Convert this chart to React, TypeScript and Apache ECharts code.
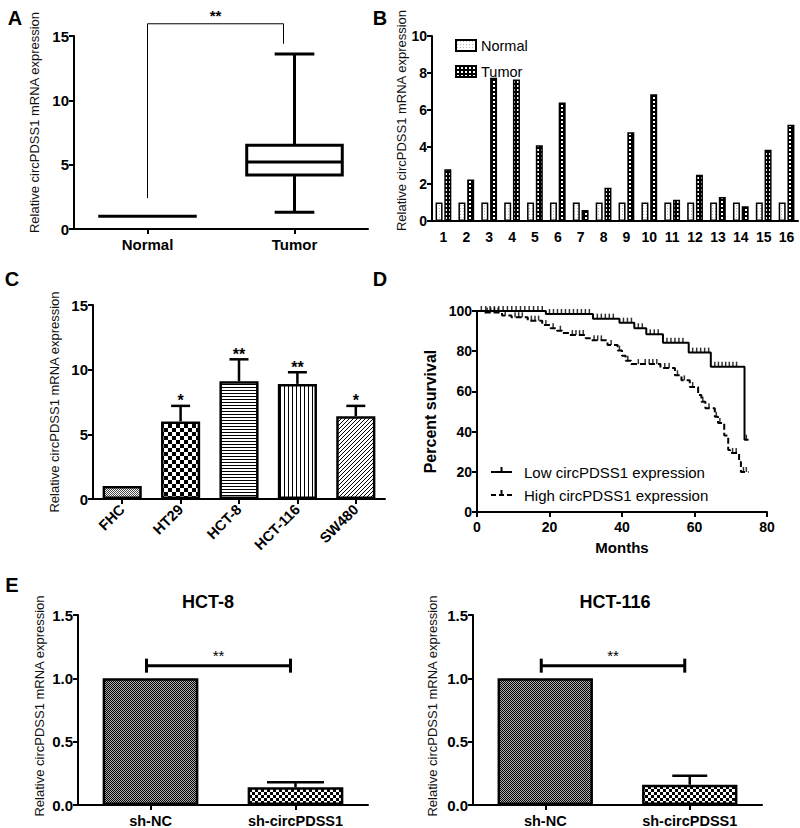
import React, { useEffect, useRef } from "react";
import * as echarts from "echarts";

const FONT = '"Liberation Sans", Arial, Helvetica, sans-serif';

// ---------- Panel A (box plot) ----------
const aCategories = ["Normal", "Tumor"];
const aNormalValue = 1.0;
const aTumorBox = [1.3, 4.2, 5.2, 6.5, 13.6]; // min, Q1, median, Q3, max
const aBracket = [2.4, 15.95, 14.4]; // left foot, top, right foot
const aSig = "**";

// ---------- Panel B (paired bars) ----------
const bCategories = ["1", "2", "3", "4", "5", "6", "7", "8", "9", "10", "11", "12", "13", "14", "15", "16"];
const bNormal = [1, 1, 1, 1, 1, 1, 1, 1, 1, 1, 1, 1, 1, 1, 1, 1];
const bTumor = [2.8, 2.25, 7.75, 7.65, 4.1, 6.4, 0.6, 1.8, 4.8, 6.85, 1.15, 2.5, 1.3, 0.8, 3.85, 5.2];

// ---------- Panel C (cell lines) ----------
const cCategories = ["FHC", "HT29", "HCT-8", "HCT-116", "SW480"];
const cMeans = [1.0, 6.0, 9.1, 8.9, 6.4];
const cErrors = [0, 1.2, 1.7, 0.9, 0.8];
const cStars = ["", "*", "**", "**", "*"];

// ---------- Panel D (Kaplan-Meier) ----------
const dLowSteps = [
  [0, 100], [19, 98.5], [32, 96.2], [39.3, 94.2], [43.4, 91.4], [46.7, 88.4],
  [51.3, 84.2], [58.4, 79.3], [64.5, 72.3], [73.8, 36], [74.9, 36],
];
const dHighSteps = [
  [0, 100], [1.8, 99.3], [6.9, 97.7], [9.5, 96.9], [14, 95.2], [18, 93], [20.3, 91.4],
  [22.1, 90.2], [23.5, 89], [25.5, 88], [30, 86.4], [31.5, 85.4], [36, 83.1], [38.8, 80.3],
  [40, 77.7], [41, 75.2], [42.5, 73.6], [50.6, 71.7], [54.6, 68], [56.4, 65.5], [58.7, 62.2],
  [61, 58.2], [61.9, 54.9], [63, 51.6], [65.6, 47.4], [66.5, 44.3], [68.2, 38], [69.3, 30.8],
  [69.8, 29.4], [72.3, 25], [72.8, 19.9], [74.9, 19.9],
];
const dLowCensored = [
  1.2, 2.4, 3.6, 4.8, 6, 7.2, 8.4, 9.6, 10.8, 12, 13.2, 14.4, 15.6, 16.8, 18,
  20, 21.1, 22.2, 23.3, 24.4, 25.5, 26.6, 27.7, 28.8, 29.9, 31,
  33.2, 34.3, 35.4, 36.5, 37.6, 40.4, 41.5, 42.6, 44.5, 45.6, 47.8, 48.9, 50,
  52.4, 53.5, 54.6, 55.7, 56.8, 59.5, 60.6, 61.7, 62.8, 63.9,
  65.6, 66.6, 67.6, 68.6, 69.6, 70.6, 71.6, 74.3,
];
const dHighCensored = [
  2.8, 3.8, 4.8, 5.8, 7.8, 10.5, 11.5, 12.5, 15, 16, 17, 19, 21, 23, 26.3, 27.3, 28.3, 29.3,
  32.3, 33.3, 34.3, 37, 39.3, 41.6, 44.5, 46.4, 47.5, 48.5, 49.6, 51.8, 53, 55.3, 57.2,
  59.5, 62.3, 64, 66, 67, 70.5, 71.5, 73.5, 74.3,
];
const dLegend = ["Low circPDSS1 expression", "High circPDSS1 expression"];

// ---------- Panel E ----------
const eCategories = ["sh-NC", "sh-circPDSS1"];
const eHct8Means = [1.0, 0.14];
const eHct8Errors = [0, 0.04];
const eHct116Means = [1.0, 0.16];
const eHct116Errors = [0, 0.07];
const eBracketY = 1.1;
const eSig = "**";

const Y_NAME = "Relative circPDSS1 mRNA expression";

function levelAt(steps: number[][], t: number) {
  let v = steps[0][1];
  for (const s of steps) {
    if (s[0] <= t) v = s[1];
    else break;
  }
  return v;
}

export default function App() {
  const ref = useRef<HTMLDivElement>(null);

  useEffect(() => {
    document.body.style.margin = "0";
    const chart = echarts.init(ref.current!, undefined, { renderer: "svg" });

    const pat = (w: number, h: number, draw: (c: CanvasRenderingContext2D) => void, bg = "#fff") => {
      const cv = document.createElement("canvas");
      cv.width = w;
      cv.height = h;
      const ctx = cv.getContext("2d")!;
      ctx.fillStyle = bg;
      ctx.fillRect(0, 0, w, h);
      ctx.fillStyle = "#000";
      draw(ctx);
      return { image: cv, repeat: "repeat", imageWidth: w, imageHeight: h } as any;
    };
    const checker = (s: number, col = "#000", bg = "#fff") =>
      pat(2 * s, 2 * s, (c) => {
        c.fillStyle = col;
        c.fillRect(0, 0, s, s);
        c.fillRect(s, s, s, s);
      }, bg);
    const P = {
      bNormal: pat(3, 3, (c) => {
        c.fillStyle = "#b8b8b8";
        c.fillRect(1, 1, 1, 1);
      }),
      bTumor: pat(4, 4, (c) => {
        c.fillStyle = "#fff";
        c.fillRect(1, 1, 2, 2);
      }, "#000"),
      fhc: checker(1, "#444"),
      ht29: checker(4),
      hct8: pat(4, 3, (c) => c.fillRect(0, 0, 4, 1)),
      hct116: pat(4, 4, (c) => c.fillRect(0, 0, 1, 4)),
      sw480: pat(4, 4, (c) => {
        for (let i = 0; i < 4; i++) c.fillRect(i, 3 - i, 1, 1);
      }),
      shNC: checker(1, "#000", "#b0b0b0"),
      shCirc: checker(3),
    };
    const cPatterns = [P.fhc, P.ht29, P.hct8, P.hct116, P.sw480];
    const ePatterns = [P.shNC, P.shCirc];

    const axisLine = { show: true, onZero: false, lineStyle: { color: "#000", width: 2 } };
    const axisTick = { show: true, length: 5, lineStyle: { color: "#000", width: 2 } };
    const lbl = (size: number, margin: number, extra: any = {}) => ({
      color: "#000",
      fontWeight: "bold",
      fontSize: size,
      fontFamily: FONT,
      margin,
      ...extra,
    });
    const yName = (gap: number, shift = 0) => ({
      name: Y_NAME,
      nameLocation: "middle",
      nameGap: gap,
      nameTextStyle: { color: "#111", fontSize: 13, fontFamily: FONT, padding: [0, 0, 0, shift] },
    });
    const catAxis = (grid: number, data: string[], size: number, margin: number, tick = true, extra: any = {}) => ({
      type: "category",
      gridIndex: grid,
      data,
      axisLine,
      axisTick: { ...axisTick, show: tick, alignWithLabel: true },
      axisLabel: lbl(size, margin, extra),
      splitLine: { show: false },
    });
    const valAxis = (grid: number, max: number, interval: number, extra: any = {}) => ({
      type: "value",
      gridIndex: grid,
      min: 0,
      max,
      interval,
      axisLine,
      axisTick,
      axisLabel: lbl(15, 5),
      splitLine: { show: false },
      ...extra,
    });

    const blk = (w: number, dash?: number[]) => ({ stroke: "#000", lineWidth: w, fill: "none", lineDash: dash });

    // Panel A renderers
    const renderNormal = (_p: any, api: any) => {
      const c = api.coord([api.value(0), api.value(1)]);
      const w = api.size([1, 0])[0] * 0.67;
      return { type: "line", shape: { x1: c[0] - w / 2, y1: c[1], x2: c[0] + w / 2, y2: c[1] }, style: blk(3) };
    };
    const renderBox = (_p: any, api: any) => {
      const i = api.value(0);
      const y = [1, 2, 3, 4, 5].map((d) => api.coord([i, api.value(d)])[1]);
      const cx = api.coord([i, 0])[0];
      const bw = api.size([1, 0])[0] * 0.65;
      const cw = api.size([1, 0])[0] * 0.27;
      const L = (x1: number, y1: number, x2: number, y2: number) => ({ type: "line", shape: { x1, y1, x2, y2 }, style: blk(3) });
      return {
        type: "group",
        children: [
          L(cx, y[0], cx, y[1]),
          L(cx, y[3], cx, y[4]),
          L(cx - cw / 2, y[0], cx + cw / 2, y[0]),
          L(cx - cw / 2, y[4], cx + cw / 2, y[4]),
          { type: "rect", shape: { x: cx - bw / 2, y: y[3], width: bw, height: y[1] - y[3] }, style: { stroke: "#000", lineWidth: 3, fill: "#fff" } },
          L(cx - bw / 2, y[2], cx + bw / 2, y[2]),
        ],
      };
    };
    const renderABracket = (_p: any, api: any) => {
      const p0 = api.coord([api.value(0), api.value(2)]);
      const pt = api.coord([api.value(0), api.value(3)]);
      const q1 = api.coord([api.value(1), api.value(4)]);
      const qt = api.coord([api.value(1), api.value(3)]);
      const rx = q1[0] - 11;
      return {
        type: "group",
        children: [
          { type: "polyline", shape: { points: [p0, pt, [rx, qt[1]], [rx, q1[1]]] }, style: blk(1) },
          { type: "text", x: (pt[0] + rx) / 2, y: pt[1] - 1, style: { text: aSig, align: "center", verticalAlign: "bottom", font: `bold 15px ${FONT}`, fill: "#000" } },
        ],
      };
    };

    const renderErrors = (stars: string[] | null, capW: number, font: string) => (p: any, api: any) => {
      const i = api.value(0);
      const base = api.coord([i, api.value(1)]);
      const top = api.coord([i, api.value(2)]);
      const children: any[] = [];
      if (api.value(2) > api.value(1)) {
        children.push({ type: "line", shape: { x1: top[0], y1: base[1], x2: top[0], y2: top[1] }, style: blk(2.5) });
        children.push({ type: "line", shape: { x1: top[0] - capW / 2, y1: top[1], x2: top[0] + capW / 2, y2: top[1] }, style: blk(2.5) });
      }
      const s = stars ? stars[p.dataIndex] : "";
      if (s) children.push({ type: "text", x: top[0], y: top[1] + 3, style: { text: s, align: "center", verticalAlign: "bottom", font, fill: "#000" } });
      return { type: "group", children };
    };

    const renderEBracket = (_p: any, api: any) => {
      const a = api.coord([api.value(0), api.value(2)]);
      const b = api.coord([api.value(1), api.value(2)]);
      const x1 = a[0] - 4;
      const x2 = b[0] - 5;
      const L = (xa: number, ya: number, xb: number, yb: number) => ({ type: "line", shape: { x1: xa, y1: ya, x2: xb, y2: yb }, style: blk(3) });
      return {
        type: "group",
        children: [
          L(x1, a[1], x2, a[1]),
          L(x1, a[1] - 7, x1, a[1] + 7),
          L(x2, a[1] - 7, x2, a[1] + 7),
          { type: "text", x: (x1 + x2) / 2, y: a[1] - 3, style: { text: eSig, align: "center", verticalAlign: "bottom", font: `15px ${FONT}`, fill: "#000" } },
        ],
      };
    };

    const censor = (steps: number[][], times: number[]) => times.map((t) => [t, levelAt(steps, t)]);

    const eFmt = (v: number) => v.toFixed(1);

    const letter = (t: string, x: number, y: number) => ({
      type: "text",
      x,
      y,
      style: { text: t, font: `bold 20px ${FONT}`, fill: "#000", align: "center", verticalAlign: "middle" },
    });
    const title = (t: string, x: number, y: number) => ({
      type: "text",
      x,
      y,
      style: { text: t, font: `bold 18px ${FONT}`, fill: "#000", align: "center", verticalAlign: "middle" },
    });
    const gl = (x1: number, y1: number, x2: number, y2: number, dash?: number[]) => ({
      type: "line",
      shape: { x1, y1, x2, y2 },
      style: { stroke: "#000", lineWidth: 2, lineDash: dash },
    });
    const gt = (t: string, x: number, y: number) => ({
      type: "text",
      x,
      y,
      style: { text: t, font: `15px ${FONT}`, fill: "#000", align: "left", verticalAlign: "middle" },
    });

    const option: any = {
      animation: false,
      textStyle: { fontFamily: FONT },
      grid: [
        { left: 74, top: 36, width: 294, height: 193 },
        { left: 432, top: 36, width: 366, height: 185 },
        { left: 93, top: 305, width: 292, height: 194 },
        { left: 477, top: 311, width: 290, height: 201 },
        { left: 78, top: 615, width: 290, height: 192 },
        { left: 473, top: 615, width: 289, height: 192 },
      ],
      xAxis: [
        catAxis(0, aCategories, 15, 8),
        catAxis(1, bCategories, 14, 9, false),
        catAxis(2, cCategories, 14.5, 8, true, { rotate: 45, interval: 0 }),
        {
          type: "value",
          gridIndex: 3,
          min: 0,
          max: 80,
          interval: 20,
          axisLine,
          axisTick,
          axisLabel: lbl(14, 8),
          splitLine: { show: false },
          name: "Months",
          nameLocation: "middle",
          nameGap: 28,
          nameTextStyle: { color: "#000", fontWeight: "bold", fontSize: 15, fontFamily: FONT },
        },
        catAxis(4, eCategories, 14.5, 8),
        catAxis(5, eCategories, 14.5, 8),
      ],
      yAxis: [
        valAxis(0, 15, 5, yName(33, 20)),
        valAxis(1, 10, 2, { ...yName(23, 16), axisLabel: lbl(14, 5) }),
        valAxis(2, 15, 5, yName(32)),
        valAxis(3, 100, 20, {
          axisLabel: lbl(14, 5),
          name: "Percent survival",
          nameLocation: "middle",
          nameGap: 39,
          nameTextStyle: { color: "#000", fontWeight: "bold", fontSize: 16, fontFamily: FONT },
        }),
        { ...valAxis(4, 1.5, 0.5, yName(32, 8)), axisLabel: { ...lbl(15, 5), formatter: eFmt } },
        { ...valAxis(5, 1.5, 0.5, yName(34, 8)), axisLabel: { ...lbl(15, 5), formatter: eFmt } },
      ],
      legend: {
        data: ["Normal", "Tumor"],
        orient: "vertical",
        left: 450,
        top: 33,
        itemWidth: 20,
        itemHeight: 11,
        itemGap: 11,
        icon: "rect",
        itemStyle: { borderColor: "#000", borderWidth: 2 },
        textStyle: { color: "#000", fontSize: 14.5, fontFamily: FONT },
        selectedMode: false,
      },
      series: [
        // A
        { type: "custom", xAxisIndex: 0, yAxisIndex: 0, clip: false, data: [[0, aNormalValue]], renderItem: renderNormal },
        { type: "custom", xAxisIndex: 0, yAxisIndex: 0, clip: false, data: [[1, ...aTumorBox]], renderItem: renderBox },
        { type: "custom", xAxisIndex: 0, yAxisIndex: 0, clip: false, data: [[0, 1, ...aBracket]], renderItem: renderABracket },
        // B
        {
          name: "Normal",
          type: "bar",
          xAxisIndex: 1,
          yAxisIndex: 1,
          data: bNormal,
          barWidth: 7,
          barGap: "25%",
          itemStyle: { color: P.bNormal, borderColor: "#000", borderWidth: 1.5 },
        },
        {
          name: "Tumor",
          type: "bar",
          xAxisIndex: 1,
          yAxisIndex: 1,
          data: bTumor,
          barWidth: 7,
          barGap: "25%",
          itemStyle: { color: P.bTumor, borderColor: "#000", borderWidth: 1.5 },
        },
        // C
        {
          type: "bar",
          xAxisIndex: 2,
          yAxisIndex: 2,
          barWidth: "67%",
          data: cMeans.map((v, i) => ({ value: v, itemStyle: { color: cPatterns[i] } })),
          itemStyle: { borderColor: "#000", borderWidth: 2.5 },
        },
        {
          type: "custom",
          xAxisIndex: 2,
          yAxisIndex: 2,
          clip: false,
          data: cMeans.map((m, i) => [i, m, m + cErrors[i]]),
          renderItem: renderErrors(cStars, 19, `bold 16px ${FONT}`),
        },
        // D
        {
          type: "line",
          xAxisIndex: 3,
          yAxisIndex: 3,
          step: "end",
          symbol: "none",
          data: dLowSteps,
          lineStyle: { color: "#000", width: 2 },
        },
        {
          type: "line",
          xAxisIndex: 3,
          yAxisIndex: 3,
          step: "end",
          symbol: "none",
          data: dHighSteps,
          lineStyle: { color: "#000", width: 2, type: [6, 3] },
        },
        {
          type: "scatter",
          xAxisIndex: 3,
          yAxisIndex: 3,
          symbol: "rect",
          symbolSize: [1.5, 5],
          symbolOffset: [0, -2.5],
          itemStyle: { color: "#000" },
          data: censor(dLowSteps, dLowCensored),
          silent: true,
        },
        {
          type: "scatter",
          xAxisIndex: 3,
          yAxisIndex: 3,
          symbol: "rect",
          symbolSize: [1.5, 5],
          symbolOffset: [0, -2.5],
          itemStyle: { color: "#000" },
          data: censor(dHighSteps, dHighCensored),
          silent: true,
        },
        // E left
        {
          type: "bar",
          xAxisIndex: 4,
          yAxisIndex: 4,
          barWidth: "66%",
          data: eHct8Means.map((v, i) => ({ value: v, itemStyle: { color: ePatterns[i] } })),
          itemStyle: { borderColor: "#000", borderWidth: 2.5 },
        },
        {
          type: "custom",
          xAxisIndex: 4,
          yAxisIndex: 4,
          clip: false,
          data: eHct8Means.map((m, i) => [i, m, m + eHct8Errors[i]]),
          renderItem: renderErrors(null, 57, ""),
        },
        { type: "custom", xAxisIndex: 4, yAxisIndex: 4, clip: false, data: [[0, 1, eBracketY]], renderItem: renderEBracket },
        // E right
        {
          type: "bar",
          xAxisIndex: 5,
          yAxisIndex: 5,
          barWidth: "66%",
          data: eHct116Means.map((v, i) => ({ value: v, itemStyle: { color: ePatterns[i] } })),
          itemStyle: { borderColor: "#000", borderWidth: 2.5 },
        },
        {
          type: "custom",
          xAxisIndex: 5,
          yAxisIndex: 5,
          clip: false,
          data: eHct116Means.map((m, i) => [i, m, m + eHct116Errors[i]]),
          renderItem: renderErrors(null, 35, ""),
        },
        { type: "custom", xAxisIndex: 5, yAxisIndex: 5, clip: false, data: [[0, 1, eBracketY]], renderItem: renderEBracket },
      ],
      graphic: [
        letter("A", 15, 18),
        letter("B", 380, 18),
        letter("C", 12, 279),
        letter("D", 380, 279),
        letter("E", 12, 585),
        title("HCT-8", 208, 602),
        title("HCT-116", 615, 602),
        gl(491, 472, 512, 472),
        gl(501.5, 472, 501.5, 467),
        gt(dLegend[0], 524, 472),
        gl(491, 495, 512, 495, [5, 3]),
        gl(501.5, 495, 501.5, 490),
        gt(dLegend[1], 524, 495),
      ],
    };

    chart.setOption(option);
    return () => chart.dispose();
  }, []);

  return <div ref={ref} style={{ width: 800, height: 828 }} />;
}
